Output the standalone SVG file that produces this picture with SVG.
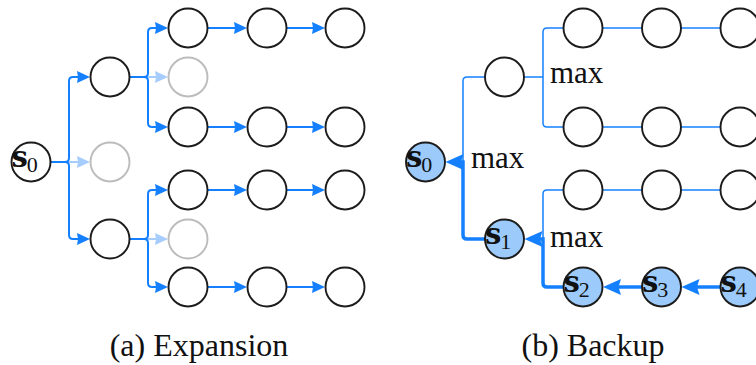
<svg xmlns="http://www.w3.org/2000/svg" width="756" height="365" viewBox="0 0 756 365">
  <style>
    .n { fill: #ffffff; stroke: #1c1c1c; stroke-width: 1.9; }
    .ng { fill: #ffffff; stroke: #bcbcbc; stroke-width: 1.9; }
    .nh { fill: #9ccbfb; stroke: #1c1c1c; stroke-width: 1.9; }
    .e { fill: none; stroke: #1580ff; stroke-width: 2; marker-end: url(#ah); }
    .el { fill: none; stroke: #a6cdfd; stroke-width: 2; marker-end: url(#ahl); }
    .et { fill: none; stroke: #1580ff; stroke-width: 1.5; }
    .ett { fill: none; stroke: #1580ff; stroke-width: 1.5; marker-end: url(#ah); }
    .ebb { fill: none; stroke: #1580ff; stroke-width: 3.5; marker-end: url(#ahb); }
    .s { font-family: "DejaVu Serif", "Liberation Serif", serif; font-weight: bold; font-size: 29px; fill: #111; }
    .sub { font-family: "Liberation Serif", "DejaVu Serif", serif; font-weight: normal; font-size: 22px; }
    .lbl { font-family: "Liberation Serif", "DejaVu Serif", serif; font-size: 31px; fill: #111; }
    .cap { font-family: "Liberation Serif", "DejaVu Serif", serif; font-size: 32px; fill: #111; text-anchor: middle; }
  </style>
  <defs>
    <!-- arrowheads: tip lies 9-10 units past the path end -->
    <marker id="ah" markerUnits="userSpaceOnUse" markerWidth="14" markerHeight="13" refX="4" refY="6.5" orient="auto">
      <path d="M13,6.5 L0,0.5 L1,6.5 L0,12.5 Z" fill="#1580ff"/>
    </marker>
    <marker id="ahl" markerUnits="userSpaceOnUse" markerWidth="14" markerHeight="13" refX="4" refY="6.5" orient="auto">
      <path d="M13,6.5 L0,0.5 L1,6.5 L0,12.5 Z" fill="#a6cdfd"/>
    </marker>
    <marker id="ahb" markerUnits="userSpaceOnUse" markerWidth="19" markerHeight="17" refX="8" refY="8.5" orient="auto">
      <path d="M18,8.5 L0,0.5 L2.5,8.5 L0,16.5 Z" fill="#1580ff"/>
    </marker>
  </defs>

  <!-- (a) Expansion: connectors -->
  <g id="edges-expansion">
    <path class="e" d="M51,162 H65 Q69,162 69,158 V81 Q69,77 73,77 H81"/>
    <path class="e" d="M65,162 Q69,162 69,166 V235 Q69,239 73,239 H81"/>
    <path class="el" d="M69,162 H81"/>
    <path class="e" d="M130,77 H144 Q148,77 148,73 V32 Q148,28 152,28 H159"/>
    <path class="e" d="M144,77 Q148,77 148,81 V123 Q148,127 152,127 H159"/>
    <path class="el" d="M148,77 H159"/>
    <path class="e" d="M130,239 H144 Q148,239 148,235 V194 Q148,190 152,190 H159"/>
    <path class="e" d="M144,239 Q148,239 148,243 V283 Q148,287 152,287 H159"/>
    <path class="el" d="M148,239 H159"/>
    <path class="e" d="M208,28 H238"/>
    <path class="e" d="M287,28 H316"/>
    <path class="e" d="M208,127 H238"/>
    <path class="e" d="M287,127 H316"/>
    <path class="e" d="M208,190 H238"/>
    <path class="e" d="M287,190 H316"/>
    <path class="e" d="M208,287 H238"/>
    <path class="e" d="M287,287 H316"/>
  </g>

  <!-- (a) Expansion: nodes -->
  <g id="a-s0"><circle class="n" cx="31" cy="162" r="19.5"/><text class="s" x="11.5" y="167">s<tspan class="sub" dx="-1" dy="5">0</tspan></text></g>
  <g id="a-n1"><circle class="n" cx="110" cy="77" r="19.5"/></g>
  <g id="a-n2"><circle class="ng" cx="110" cy="162" r="19.5"/></g>
  <g id="a-n3"><circle class="n" cx="110" cy="239" r="19.5"/></g>
  <g id="a-n4"><circle class="n" cx="188" cy="28" r="19.5"/></g>
  <g id="a-n5"><circle class="ng" cx="188" cy="77" r="19.5"/></g>
  <g id="a-n6"><circle class="n" cx="188" cy="127" r="19.5"/></g>
  <g id="a-n7"><circle class="n" cx="188" cy="190" r="19.5"/></g>
  <g id="a-n8"><circle class="ng" cx="188" cy="239" r="19.5"/></g>
  <g id="a-n9"><circle class="n" cx="188" cy="287" r="19.5"/></g>
  <g id="a-n10"><circle class="n" cx="267" cy="28" r="19.5"/></g>
  <g id="a-n11"><circle class="n" cx="267" cy="127" r="19.5"/></g>
  <g id="a-n12"><circle class="n" cx="267" cy="190" r="19.5"/></g>
  <g id="a-n13"><circle class="n" cx="267" cy="287" r="19.5"/></g>
  <g id="a-n14"><circle class="n" cx="345" cy="28" r="19.5"/></g>
  <g id="a-n15"><circle class="n" cx="345" cy="127" r="19.5"/></g>
  <g id="a-n16"><circle class="n" cx="345" cy="190" r="19.5"/></g>
  <g id="a-n17"><circle class="n" cx="345" cy="287" r="19.5"/></g>

  <!-- (b) Backup: connectors -->
  <g id="edges-backup">
    <path class="et" d="M485,77 H467 Q463,77 463,81 V162"/>
    <path class="ebb" d="M485,239 H467 Q463,239 463,235 V162 H455.5"/>
    <path class="et" d="M563,28 H547 Q543,28 543,32 V123 Q543,127 547,127 H563"/>
    <path class="ett" d="M543,77 H515.5"/>
    <path class="et" d="M563,190 H547 Q543,190 543,194 V239"/>
    <path class="ebb" d="M563,287 H547 Q543,287 543,283 V239 H534.5"/>
    <path class="ett" d="M642,28 H594"/>
    <path class="ett" d="M720,28 H672.5"/>
    <path class="ett" d="M642,127 H594"/>
    <path class="ett" d="M720,127 H672.5"/>
    <path class="ett" d="M642,190 H594"/>
    <path class="ett" d="M720,190 H672.5"/>
    <path class="ebb" d="M642,287 H613"/>
    <path class="ebb" d="M720,287 H691.5"/>
  </g>

  <!-- (b) Backup: nodes -->
  <g id="b-s0"><circle class="nh" cx="425.5" cy="162" r="19.5"/><text class="s" x="406" y="167">s<tspan class="sub" dx="-1" dy="5">0</tspan></text></g>
  <g id="b-n1"><circle class="n" cx="504.5" cy="77" r="19.5"/></g>
  <g id="b-s1"><circle class="nh" cx="504.5" cy="239" r="19.5"/><text class="s" x="485" y="244">s<tspan class="sub" dx="-1" dy="5">1</tspan></text></g>
  <g id="b-n2"><circle class="n" cx="583" cy="28" r="19.5"/></g>
  <g id="b-n3"><circle class="n" cx="583" cy="127" r="19.5"/></g>
  <g id="b-n4"><circle class="n" cx="583" cy="190" r="19.5"/></g>
  <g id="b-s2"><circle class="nh" cx="583" cy="287" r="19.5"/><text class="s" x="563.5" y="292">s<tspan class="sub" dx="-1" dy="5">2</tspan></text></g>
  <g id="b-n5"><circle class="n" cx="661.5" cy="28" r="19.5"/></g>
  <g id="b-n6"><circle class="n" cx="661.5" cy="127" r="19.5"/></g>
  <g id="b-n7"><circle class="n" cx="661.5" cy="190" r="19.5"/></g>
  <g id="b-s3"><circle class="nh" cx="661.5" cy="287" r="19.5"/><text class="s" x="642" y="292">s<tspan class="sub" dx="-1" dy="5">3</tspan></text></g>
  <g id="b-n8"><circle class="n" cx="740" cy="28" r="19.5"/></g>
  <g id="b-n9"><circle class="n" cx="740" cy="127" r="19.5"/></g>
  <g id="b-n10"><circle class="n" cx="740" cy="190" r="19.5"/></g>
  <g id="b-s4"><circle class="nh" cx="740" cy="287" r="19.5"/><text class="s" x="720.5" y="292">s<tspan class="sub" dx="-1" dy="5">4</tspan></text></g>

  <!-- max labels -->
  <text class="lbl" x="471" y="168">max</text>
  <text class="lbl" x="550" y="83">max</text>
  <text class="lbl" x="550" y="247">max</text>

  <!-- captions -->
  <text class="cap" x="199" y="356">(a) Expansion</text>
  <text class="cap" x="593" y="356">(b) Backup</text>
</svg>
